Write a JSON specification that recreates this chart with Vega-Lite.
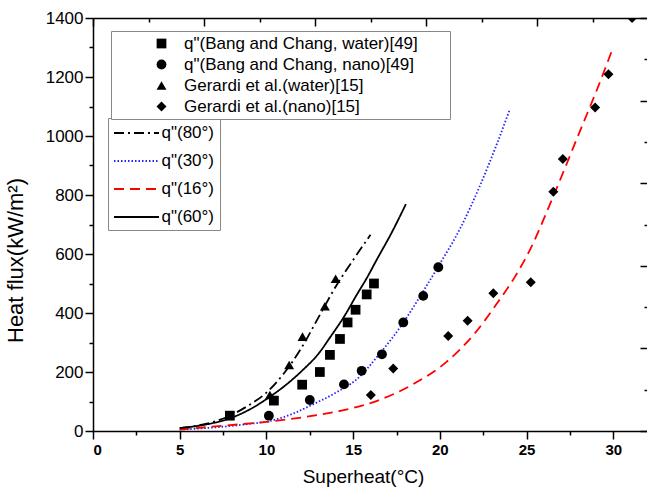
{
  "$schema": "https://vega.github.io/schema/vega-lite/v6.json",
  "width": 555,
  "height": 413,
  "autosize": "none",
  "padding": {"left": 93, "top": 18, "right": 0, "bottom": 62},
  "background": "white",
  "config": {
    "view": {"stroke": null},
    "font": "Liberation Sans",
    "axis": {"domainColor": "black", "tickColor": "black", "labelColor": "black", "titleColor": "black", "grid": false, "domainWidth": 1.5, "tickWidth": 1.5}
  },
  "datasets": {
    "frame": [{"t": 0, "u": 0}, {"t": 10, "u": 10}],
    "curves": [
      {"curve": "q\"(80°)", "x": 5, "q": 10},
      {"curve": "q\"(80°)", "x": 6, "q": 18},
      {"curve": "q\"(80°)", "x": 7, "q": 32},
      {"curve": "q\"(80°)", "x": 8, "q": 55},
      {"curve": "q\"(80°)", "x": 9, "q": 88},
      {"curve": "q\"(80°)", "x": 10, "q": 130},
      {"curve": "q\"(80°)", "x": 11, "q": 195},
      {"curve": "q\"(80°)", "x": 12, "q": 280},
      {"curve": "q\"(80°)", "x": 13, "q": 385},
      {"curve": "q\"(80°)", "x": 14, "q": 490},
      {"curve": "q\"(80°)", "x": 15, "q": 580},
      {"curve": "q\"(80°)", "x": 16, "q": 665},
      {"curve": "q\"(30°)", "x": 5, "q": 5},
      {"curve": "q\"(30°)", "x": 7, "q": 12},
      {"curve": "q\"(30°)", "x": 9, "q": 24},
      {"curve": "q\"(30°)", "x": 10.2, "q": 34},
      {"curve": "q\"(30°)", "x": 11.5, "q": 58},
      {"curve": "q\"(30°)", "x": 12.5, "q": 85},
      {"curve": "q\"(30°)", "x": 14, "q": 130},
      {"curve": "q\"(30°)", "x": 15.2, "q": 175},
      {"curve": "q\"(30°)", "x": 16.5, "q": 260},
      {"curve": "q\"(30°)", "x": 17.9, "q": 368},
      {"curve": "q\"(30°)", "x": 19, "q": 470},
      {"curve": "q\"(30°)", "x": 19.9, "q": 557},
      {"curve": "q\"(30°)", "x": 21.2, "q": 690},
      {"curve": "q\"(30°)", "x": 22.3, "q": 830},
      {"curve": "q\"(30°)", "x": 23.2, "q": 960},
      {"curve": "q\"(30°)", "x": 24, "q": 1085},
      {"curve": "q\"(16°)", "x": 5, "q": 5},
      {"curve": "q\"(16°)", "x": 7.5, "q": 18},
      {"curve": "q\"(16°)", "x": 10.2, "q": 32},
      {"curve": "q\"(16°)", "x": 12.9, "q": 54},
      {"curve": "q\"(16°)", "x": 15, "q": 78},
      {"curve": "q\"(16°)", "x": 16.5, "q": 105},
      {"curve": "q\"(16°)", "x": 18.5, "q": 160},
      {"curve": "q\"(16°)", "x": 20.4, "q": 235},
      {"curve": "q\"(16°)", "x": 22, "q": 330},
      {"curve": "q\"(16°)", "x": 23.3, "q": 433},
      {"curve": "q\"(16°)", "x": 24.3, "q": 520},
      {"curve": "q\"(16°)", "x": 25.2, "q": 615},
      {"curve": "q\"(16°)", "x": 26.5, "q": 790},
      {"curve": "q\"(16°)", "x": 28.1, "q": 1020},
      {"curve": "q\"(16°)", "x": 29.05, "q": 1156},
      {"curve": "q\"(16°)", "x": 29.9, "q": 1286},
      {"curve": "q\"(60°)", "x": 5, "q": 10},
      {"curve": "q\"(60°)", "x": 6, "q": 17},
      {"curve": "q\"(60°)", "x": 7, "q": 28},
      {"curve": "q\"(60°)", "x": 7.9, "q": 43},
      {"curve": "q\"(60°)", "x": 9, "q": 72},
      {"curve": "q\"(60°)", "x": 10.2, "q": 116},
      {"curve": "q\"(60°)", "x": 11.2, "q": 160},
      {"curve": "q\"(60°)", "x": 12.1, "q": 207},
      {"curve": "q\"(60°)", "x": 13, "q": 262},
      {"curve": "q\"(60°)", "x": 13.7, "q": 320},
      {"curve": "q\"(60°)", "x": 14.5, "q": 390},
      {"curve": "q\"(60°)", "x": 15.2, "q": 461},
      {"curve": "q\"(60°)", "x": 15.8, "q": 520},
      {"curve": "q\"(60°)", "x": 16.4, "q": 585},
      {"curve": "q\"(60°)", "x": 17.2, "q": 670},
      {"curve": "q\"(60°)", "x": 18.04, "q": 769}
    ],
    "points": [
      {"series": "q\"(Bang and Chang, water)[49]", "x": 7.89, "q": 52},
      {"series": "q\"(Bang and Chang, water)[49]", "x": 10.43, "q": 103},
      {"series": "q\"(Bang and Chang, water)[49]", "x": 12.06, "q": 157},
      {"series": "q\"(Bang and Chang, water)[49]", "x": 13.08, "q": 200},
      {"series": "q\"(Bang and Chang, water)[49]", "x": 13.66, "q": 258},
      {"series": "q\"(Bang and Chang, water)[49]", "x": 14.24, "q": 312},
      {"series": "q\"(Bang and Chang, water)[49]", "x": 14.68, "q": 368},
      {"series": "q\"(Bang and Chang, water)[49]", "x": 15.14, "q": 411},
      {"series": "q\"(Bang and Chang, water)[49]", "x": 15.78, "q": 463},
      {"series": "q\"(Bang and Chang, water)[49]", "x": 16.2, "q": 500},
      {"series": "q\"(Bang and Chang, nano)[49]", "x": 10.14, "q": 52},
      {"series": "q\"(Bang and Chang, nano)[49]", "x": 12.5, "q": 105},
      {"series": "q\"(Bang and Chang, nano)[49]", "x": 14.47, "q": 158},
      {"series": "q\"(Bang and Chang, nano)[49]", "x": 15.49, "q": 204},
      {"series": "q\"(Bang and Chang, nano)[49]", "x": 16.66, "q": 260},
      {"series": "q\"(Bang and Chang, nano)[49]", "x": 17.89, "q": 368},
      {"series": "q\"(Bang and Chang, nano)[49]", "x": 19.04, "q": 458},
      {"series": "q\"(Bang and Chang, nano)[49]", "x": 19.91, "q": 555},
      {"series": "Gerardi et al.(water)[15]", "x": 10.2, "q": 122},
      {"series": "Gerardi et al.(water)[15]", "x": 11.31, "q": 224},
      {"series": "Gerardi et al.(water)[15]", "x": 12.08, "q": 320},
      {"series": "Gerardi et al.(water)[15]", "x": 13.37, "q": 423},
      {"series": "Gerardi et al.(water)[15]", "x": 13.99, "q": 516},
      {"series": "Gerardi et al.(nano)[15]", "x": 16.02, "q": 122},
      {"series": "Gerardi et al.(nano)[15]", "x": 17.31, "q": 212},
      {"series": "Gerardi et al.(nano)[15]", "x": 20.48, "q": 322},
      {"series": "Gerardi et al.(nano)[15]", "x": 21.6, "q": 374},
      {"series": "Gerardi et al.(nano)[15]", "x": 23.08, "q": 467},
      {"series": "Gerardi et al.(nano)[15]", "x": 25.24, "q": 504},
      {"series": "Gerardi et al.(nano)[15]", "x": 26.54, "q": 811},
      {"series": "Gerardi et al.(nano)[15]", "x": 27.09, "q": 922},
      {"series": "Gerardi et al.(nano)[15]", "x": 28.95, "q": 1097},
      {"series": "Gerardi et al.(nano)[15]", "x": 29.72, "q": 1209},
      {"series": "Gerardi et al.(nano)[15]", "x": 31.08, "q": 1400}
    ]
  },
  "layer": [
    {
      "data": {"name": "frame"},
      "mark": {"type": "point", "opacity": 0},
      "encoding": {
        "x": {"field": "t", "type": "quantitative", "scale": {"domain": [0, 10], "nice": false, "zero": false},
          "axis": {"orient": "top", "values": [0,1,2,3,4,5,6,7,8,9,10], "labels": false, "title": null,
            "tickSize": {"condition": {"test": "datum.value % 2 === 0", "value": -8}, "value": -4}}},
        "y": {"field": "u", "type": "quantitative", "scale": {"domain": [0, 10], "nice": false, "zero": false},
          "axis": {"orient": "right", "values": [0,1,2,3,4,5,6,7,8,9,10], "labels": false, "title": null,
            "tickSize": {"condition": {"test": "datum.value % 2 === 0", "value": -8}, "value": -4}}}
      }
    },
    {
      "data": {"name": "curves"},
      "mark": {"type": "line", "interpolate": "monotone", "strokeWidth": 1.8},
      "encoding": {
        "x": {"field": "x", "type": "quantitative", "scale": {"domain": [0, 32], "nice": false, "zero": false},
          "axis": {"orient": "bottom", "values": [0,2.5,5,7.5,10,12.5,15,17.5,20,22.5,25,27.5,30],
            "labelExpr": "datum.value % 5 === 0 ? datum.label : ''",
            "tickSize": {"condition": {"test": "datum.value % 5 === 0", "value": 8}, "value": 4},
            "labelFontSize": 15, "labelFontWeight": "bold", "labelPadding": 3,
            "title": "Superheat(°C)", "titleFontSize": 19, "titleFontWeight": "normal", "titlePadding": 10, "titleX": 270}},
        "y": {"field": "q", "type": "quantitative", "scale": {"domain": [0, 1400], "nice": false, "zero": false},
          "axis": {"orient": "left", "values": [0,100,200,300,400,500,600,700,800,900,1000,1100,1200,1300,1400],
            "labelExpr": "datum.value % 200 === 0 ? datum.label : ''",
            "format": "d",
            "tickSize": {"condition": {"test": "datum.value % 200 === 0", "value": 8}, "value": 4},
            "labelFontSize": 17, "labelPadding": 2,
            "title": "Heat flux(kW/m²)", "titleFontSize": 22, "titleFontWeight": "normal", "titleY": 242, "titleX": -66}},
        "detail": {"field": "curve"},
        "color": {"field": "curve", "type": "nominal",
          "scale": {"domain": ["q\"(80°)", "q\"(30°)", "q\"(16°)", "q\"(60°)"], "range": ["black", "#2222ff", "#ff0000", "black"]},
          "legend": {"orient": "none", "legendX": 15, "legendY": 100, "title": null, "strokeColor": "#888888", "fillColor": "white", "padding": 5,
            "symbolType": "M-2.5,0H2.5", "symbolSize": 324, "symbolStrokeWidth": 1.8, "labelFontSize": 17, "rowPadding": 10, "symbolOffset": 13.5, "labelOffset": 15}},
        "strokeDash": {"field": "curve", "type": "nominal",
          "scale": {"domain": ["q\"(80°)", "q\"(30°)", "q\"(16°)", "q\"(60°)"], "range": [[10, 4, 2, 4], [1.5, 2], [10, 6], [1, 0]]},
          "legend": {"orient": "none", "legendX": 15, "legendY": 100, "title": null, "strokeColor": "#888888", "fillColor": "white", "padding": 5,
            "symbolType": "M-2.5,0H2.5", "symbolSize": 324, "symbolStrokeWidth": 1.8, "labelFontSize": 17, "rowPadding": 10, "symbolOffset": 13.5, "labelOffset": 15}}
      }
    },
    {
      "data": {"name": "points"},
      "mark": {"type": "point", "filled": true, "opacity": 1, "clip": true},
      "encoding": {
        "x": {"field": "x", "type": "quantitative", "scale": {"domain": [0, 32], "nice": false, "zero": false}, "axis": null},
        "y": {"field": "q", "type": "quantitative", "scale": {"domain": [0, 1400], "nice": false, "zero": false}, "axis": null},
        "color": {"value": "black"},
        "size": {"field": "series", "type": "nominal",
          "scale": {"domain": ["q\"(Bang and Chang, water)[49]", "q\"(Bang and Chang, nano)[49]", "Gerardi et al.(water)[15]", "Gerardi et al.(nano)[15]"],
            "range": [95, 100, 200, 170]},
          "legend": {"orient": "none", "legendX": 18, "legendY": 13, "title": "\u00a0", "titleOrient": "right", "titleFontSize": 2, "titlePadding": 28,
            "strokeColor": "#888888", "fillColor": "white", "padding": 4, "symbolFillColor": "black", "symbolStrokeColor": "black",
            "labelFontSize": 17, "rowPadding": 3, "symbolOffset": 38, "labelOffset": 14, "labelLimit": 500}},
        "shape": {"field": "series", "type": "nominal",
          "scale": {"domain": ["q\"(Bang and Chang, water)[49]", "q\"(Bang and Chang, nano)[49]", "Gerardi et al.(water)[15]", "Gerardi et al.(nano)[15]"],
            "range": ["square", "circle", "triangle-up", "diamond"]},
          "legend": {"orient": "none", "legendX": 18, "legendY": 13, "title": "\u00a0", "titleOrient": "right", "titleFontSize": 2, "titlePadding": 28,
            "strokeColor": "#888888", "fillColor": "white", "padding": 4, "symbolFillColor": "black", "symbolStrokeColor": "black",
            "labelFontSize": 17, "rowPadding": 3, "symbolOffset": 38, "labelOffset": 14, "labelLimit": 500}}
      }
    }
  ],
  "resolve": {"scale": {"x": "independent", "y": "independent", "color": "independent", "shape": "independent", "strokeDash": "independent", "size": "independent"}}
}
